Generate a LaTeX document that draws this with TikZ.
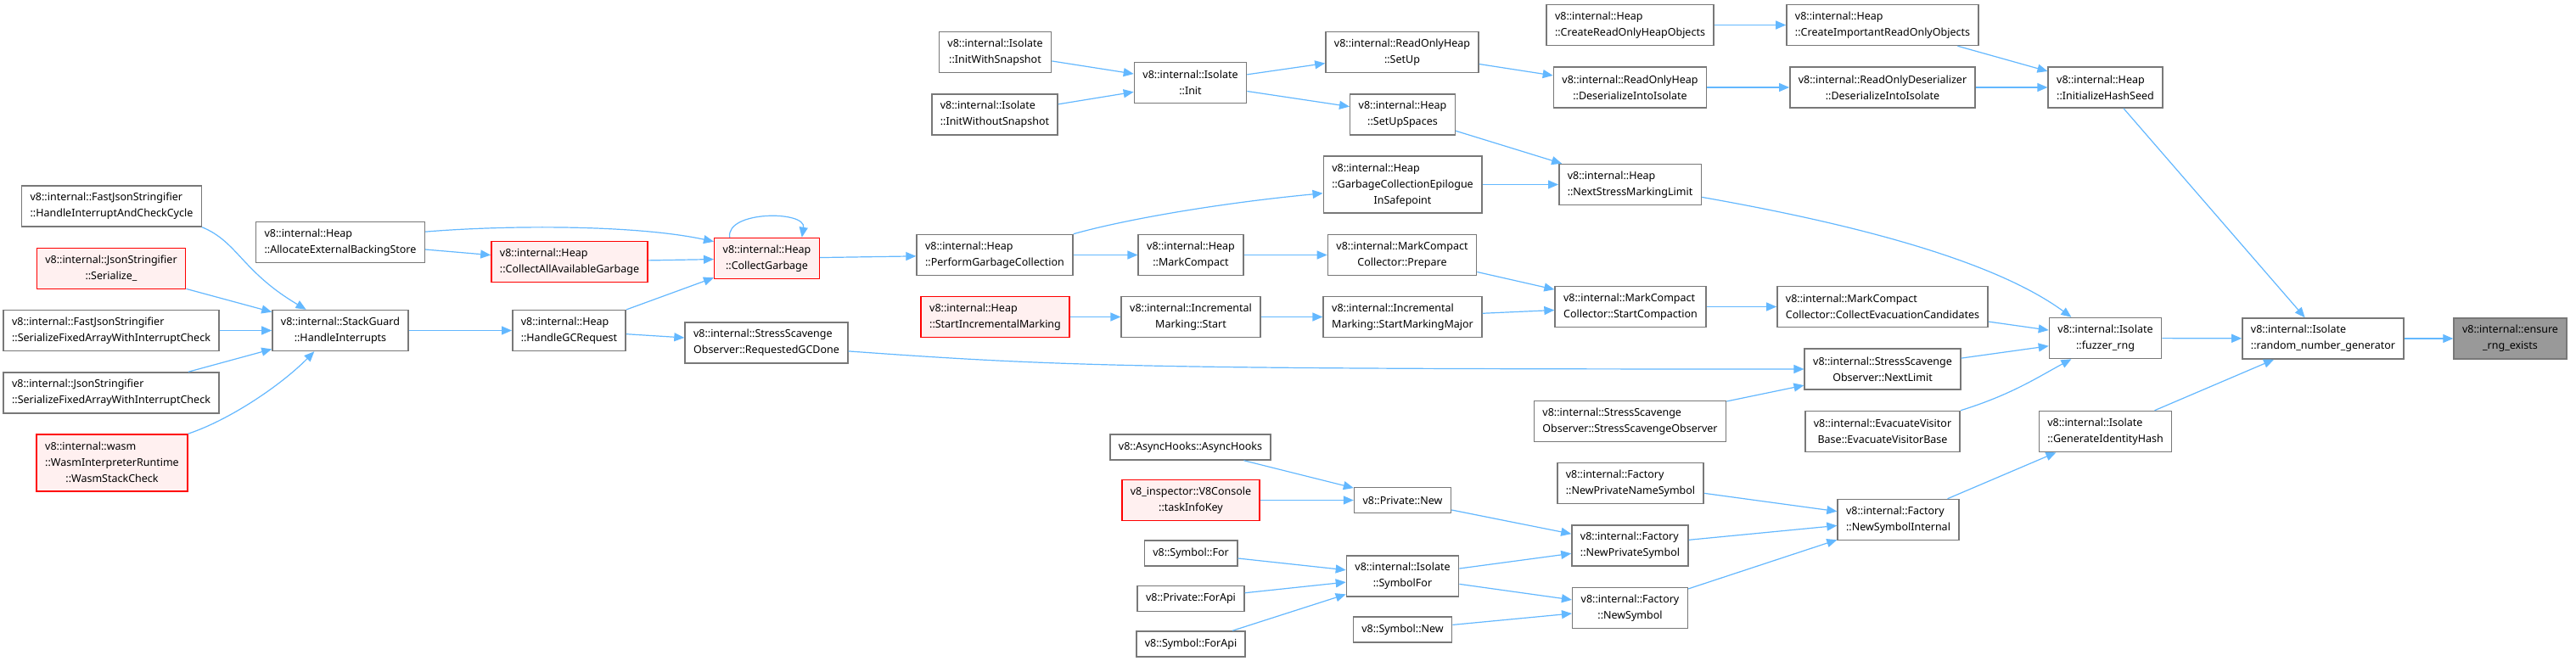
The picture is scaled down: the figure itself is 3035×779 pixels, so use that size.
\documentclass[tikz,border=0pt]{standalone}
\usepackage{fontspec}
\setmainfont{Noto Sans}
\usepackage{xcolor}
\definecolor{EdgeBlue}{RGB}{99,184,255}
\definecolor{BoxGray}{RGB}{120,120,120}
\definecolor{NoDocFill}{RGB}{255,240,240}
\definecolor{SelfFill}{RGB}{153,153,153}
\usetikzlibrary{positioning,arrows.meta,calc}

\begin{document}
\begin{tikzpicture}[
    x=0.5pt, y=-0.5pt,
    fn/.style={rectangle, draw=BoxGray, fill=white, line width=0.75pt, minimum height=24pt,
              inner xsep=5pt, inner ysep=1pt, align=left, font=\fontsize{6.25}{9.5}\selectfont},
    fnc/.style={fn, align=center},
    nodoc/.style={draw=red, fill=NoDocFill},
    self/.style={fnc, fill=SelfFill},
    oneline/.style={minimum height=15pt},
    threeline/.style={minimum height=33.5pt},
    a/.style={-{Triangle[length=6pt,width=5pt]}, draw=EdgeBlue, line width=0.6pt}
]
    \fill[white] (0,0) rectangle (3035,779);
    \useasboundingbox (0,0) rectangle (3035,779);

    \node[fn] (hicc) at (131.5,243) {v8::internal::FastJsonStringifier\\::HandleInterruptAndCheckCycle};
    \node[fnc, nodoc] (ser) at (131,316.5) {v8::internal::JsonStringifier\\::Serialize\_};
    \node[fn] (fsfa) at (131,389.5) {v8::internal::FastJsonStringifier\\::SerializeFixedArrayWithInterruptCheck};
    \node[fn] (jsfa) at (131,463) {v8::internal::JsonStringifier\\::SerializeFixedArrayWithInterruptCheck};
    \node[fn, nodoc, threeline] (wsc) at (132,545.5) {\begin{tabular}{@{}l@{}}v8::internal::wasm\\::WasmInterpreterRuntime\\\multicolumn{1}{@{}c@{}}{::WasmStackCheck}\end{tabular}};
    \node[fnc] (hi) at (401,389.5) {v8::internal::StackGuard\\::HandleInterrupts};
    \node[fn] (aebs) at (401,285.5) {v8::internal::Heap\\::AllocateExternalBackingStore};
    \node[fn, nodoc] (caag) at (671,308.5) {v8::internal::Heap\\::CollectAllAvailableGarbage};
    \node[fnc, nodoc] (cg) at (903.5,304.5) {v8::internal::Heap\\::CollectGarbage};
    \node[fn] (hgc) at (670.5,389.5) {v8::internal::Heap\\::HandleGCRequest};
    \node[fn] (rgcd) at (903,404) {v8::internal::StressScavenge\\Observer::RequestedGCDone};
    \node[fnc] (iws) at (1172.5,61.5) {v8::internal::Isolate\\::InitWithSnapshot};
    \node[fn] (iwos) at (1172,135) {v8::internal::Isolate\\::InitWithoutSnapshot};
    \node[fnc] (init) at (1402.5,97.5) {v8::internal::Isolate\\::Init};
    \node[fn] (pgc) at (1172,300.5) {v8::internal::Heap\\::PerformGarbageCollection};
    \node[fnc] (mc) at (1403,300.5) {v8::internal::Heap\\::MarkCompact};
    \node[fn, nodoc] (sim) at (1172.5,373.5) {v8::internal::Heap\\::StartIncrementalMarking};
    \node[fnc] (ims) at (1403,373.5) {v8::internal::Incremental\\Marking::Start};
    \node[fnc] (rosu) at (1652,61.5) {v8::internal::ReadOnlyHeap\\::SetUp};
    \node[fnc] (sus) at (1652.5,135) {v8::internal::Heap\\::SetUpSpaces};
    \node[fn, threeline] (gcei) at (1652.5,217.5) {\begin{tabular}{@{}l@{}}v8::internal::Heap\\::GarbageCollectionEpilogue\\\multicolumn{1}{@{}c@{}}{InSafepoint}\end{tabular}};
    \node[fnc] (mcp) at (1652,300.5) {v8::internal::MarkCompact\\Collector::Prepare};
    \node[fn] (ismm) at (1652.5,373.5) {v8::internal::Incremental\\Marking::StartMarkingMajor};
    \node[fn] (crohob) at (1920.5,29.5) {v8::internal::Heap\\::CreateReadOnlyHeapObjects};
    \node[fnc] (rohdi) at (1920.5,103) {v8::internal::ReadOnlyHeap\\::DeserializeIntoIsolate};
    \node[fn] (nsml) at (1920.5,217.5) {v8::internal::Heap\\::NextStressMarkingLimit};
    \node[fn] (sc) at (1921,361.5) {v8::internal::MarkCompact\\Collector::StartCompaction};
    \node[fn] (ciroo) at (2218,29.5) {v8::internal::Heap\\::CreateImportantReadOnlyObjects};
    \node[fnc] (roddi) at (2218,103) {v8::internal::ReadOnlyDeserializer\\::DeserializeIntoIsolate};
    \node[fn] (ihs) at (2480.5,103) {v8::internal::Heap\\::InitializeHashSeed};
    \node[fn] (cec) at (2218,361.5) {v8::internal::MarkCompact\\Collector::CollectEvacuationCandidates};
    \node[fnc] (frng) at (2480.5,398.5) {v8::internal::Isolate\\::fuzzer\_rng};
    \node[fn] (rng) at (2737,399) {v8::internal::Isolate\\::random\_number\_generator};
    \node[self] (ere) at (2957.5,399) {v8::internal::ensure\\\_rng\_exists};
    \node[fnc] (nl) at (2218,435) {v8::internal::StressScavenge\\Observer::NextLimit};
    \node[fnc] (evb) at (2218,508.5) {v8::internal::EvacuateVisitor\\Base::EvacuateVisitorBase};
    \node[fn] (gih) at (2480.5,508.5) {v8::internal::Isolate\\::GenerateIdentityHash};
    \node[fn] (nsi) at (2236.5,612.5) {v8::internal::Factory\\::NewSymbolInternal};
    \node[fn] (sso) at (1920.5,496.5) {v8::internal::StressScavenge\\Observer::StressScavengeObserver};
    \node[fn] (npns) at (1921,569.5) {v8::internal::Factory\\::NewPrivateNameSymbol};
    \node[fn] (nps) at (1920.5,643) {v8::internal::Factory\\::NewPrivateSymbol};
    \node[fnc] (ns) at (1920.5,716.5) {v8::internal::Factory\\::NewSymbol};
    \node[fnc, oneline] (pn) at (1652.5,589.5) {v8::Private::New};
    \node[fnc] (isf) at (1652.5,679) {v8::internal::Isolate\\::SymbolFor};
    \node[fnc, oneline] (sn) at (1652.5,742) {v8::Symbol::New};
    \node[fnc, oneline] (ah) at (1402.5,527) {v8::AsyncHooks::AsyncHooks};
    \node[fnc, nodoc] (tik) at (1403,589.5) {v8\_inspector::V8Console\\::taskInfoKey};
    \node[fnc, oneline] (sf) at (1403,652) {v8::Symbol::For};
    \node[fnc, oneline] (pfa) at (1403,705.5) {v8::Private::ForApi};
    \node[fnc, oneline] (sfa) at (1403,759) {v8::Symbol::ForApi};

    \draw[a] (hicc.south east) .. controls (280,285) and (285,320) .. ($(hi.north west)!0.25!(hi.north east)$);
    \draw[a] (ser) -- (hi);
    \draw[a] (fsfa) -- (hi);
    \draw[a] (jsfa) -- (hi);
    \draw[a] (wsc.north east) .. controls (270,495) and (330,455) .. ($(hi.south west)!0.31!(hi.south east)$);
    \draw[a] (hi) -- (hgc);
    \draw[a] ($(aebs.north east)!0.25!(aebs.south east)$) .. controls (600,265) and (750,265) .. ($(cg.north west)!0.1!(cg.south west)$);
    \draw[a] (aebs) -- (caag);
    \draw[a] (caag) -- (cg);
    \draw[a] (hgc) -- (cg);
    \draw[a] (hgc) -- (rgcd);
    \draw[a] ($(cg.north west)!0.15!(cg.north east)$) .. controls (855,248) and (950,248) .. ($(cg.north west)!0.83!(cg.north east)$);
    \draw[a] (cg) -- (pgc);
    \draw[a] ($(rgcd.north east)!0.7!(rgcd.south east)$) .. controls (1250,432) and (1350,435) .. (nl.west);
    \draw[a] (iws) -- (init);
    \draw[a] (iwos) -- (init);
    \draw[a] (init) -- (rosu);
    \draw[a] (init) -- (sus);
    \draw[a] (rosu) -- (rohdi);
    \draw[a] (sus) -- (nsml);
    \draw[a] (gcei) -- (nsml);
    \draw[a] (pgc.north east) .. controls (1320,260) and (1430,240) .. ($(gcei.north west)!0.65!(gcei.south west)$);
    \draw[a] (pgc) -- (mc);
    \draw[a] (mc) -- (mcp);
    \draw[a] (mcp) -- (sc);
    \draw[a] (ismm) -- (sc);
    \draw[a] (sim) -- (ims);
    \draw[a] (ims) -- (ismm);
    \draw[a] (crohob) -- (ciroo);
    \draw[a] (rohdi) -- (roddi);
    \draw[a] (ciroo) -- (ihs);
    \draw[a] (roddi) -- (ihs);
    \draw[a] (ihs) -- (rng);
    \draw[a] ($(nsml.north east)!0.8!(nsml.south east)$) .. controls (2150,258) and (2340,300) .. ($(frng.north west)!0.2!(frng.north east)$);
    \draw[a] (sc) -- (cec);
    \draw[a] (cec) -- (frng);
    \draw[a] (nl) -- (frng);
    \draw[a] (sso) -- (nl);
    \draw[a] (evb.north east) .. controls (2370,465) and (2400,445) .. ($(frng.south west)!0.2!(frng.south east)$);
    \draw[a] (frng) -- (rng);
    \draw[a] (gih) -- (rng);
    \draw[a] (rng) -- (ere);
    \draw[a] (nsi) -- (gih);
    \draw[a] (ah) -- (pn);
    \draw[a] (tik) -- (pn);
    \draw[a] (pn) -- (nps);
    \draw[a] (sf) -- (isf);
    \draw[a] (pfa) -- (isf);
    \draw[a] (sfa) -- (isf);
    \draw[a] (isf) -- (nps);
    \draw[a] (isf) -- (ns);
    \draw[a] (sn) -- (ns);
    \draw[a] (npns) -- (nsi);
    \draw[a] (nps) -- (nsi);
    \draw[a] (ns) -- (nsi);
\end{tikzpicture}
\end{document}
